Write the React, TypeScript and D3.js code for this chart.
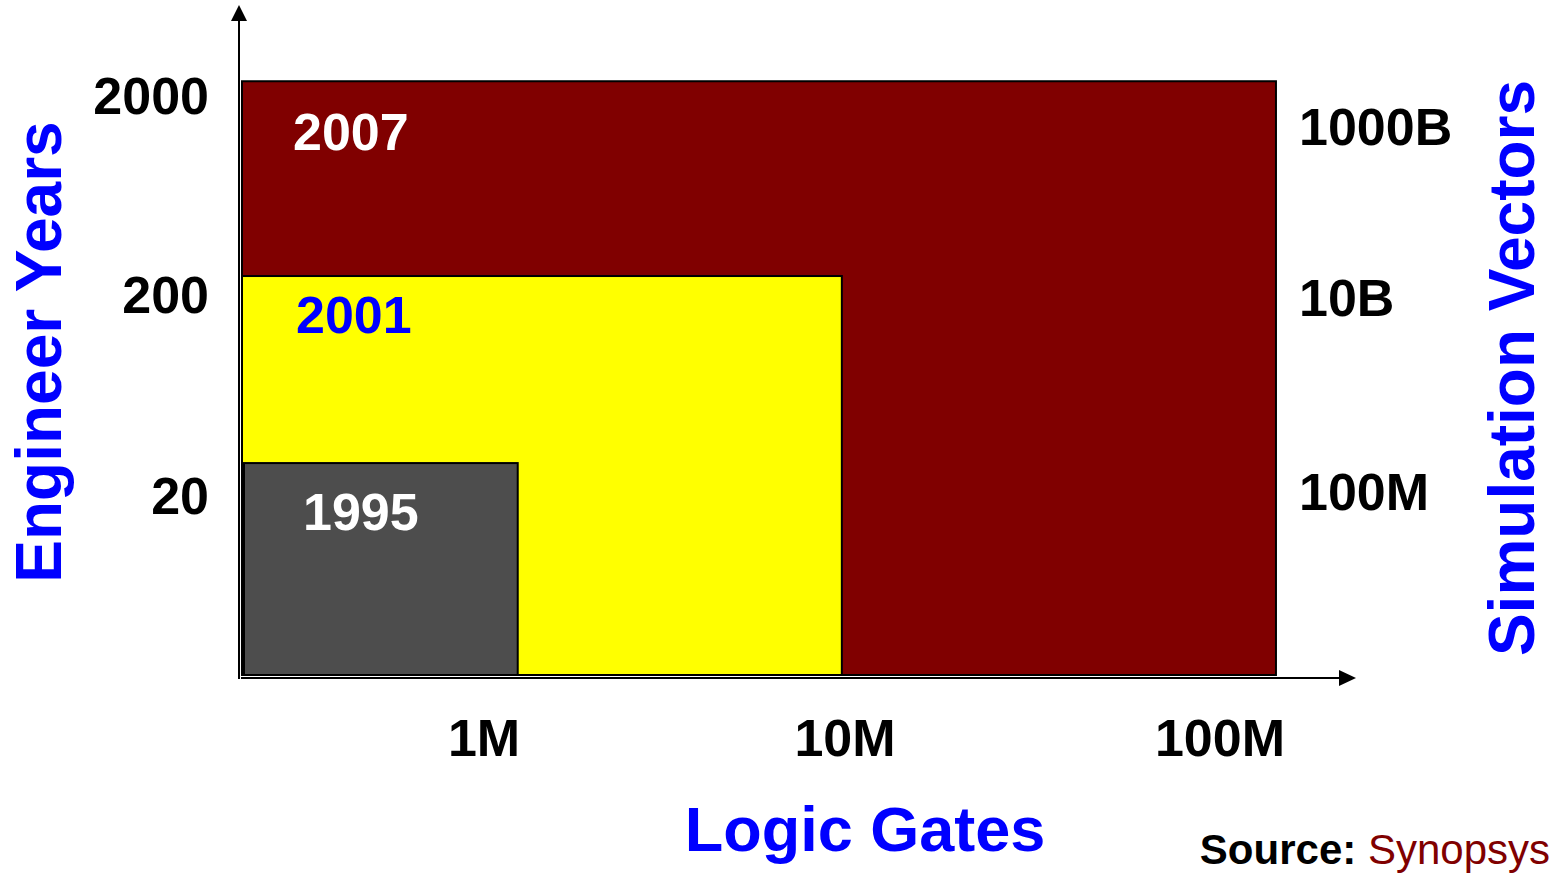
import React, { useEffect, useRef } from 'react'
import * as d3 from 'd3'

// design generations, drawn largest first so smaller boxes sit on top
const years = ['2007', '2001', '1995']
const gates = [141e6, 9.8e6, 1.24e6]
const engineerYears = [2400, 252, 29.5]
const fills = ['#800000', '#ffff00', '#4d4d4d']
const labelColors = ['#ffffff', '#0000ff', '#ffffff']

const gateTicks = [1e6, 1e7, 1e8]
const gateTickLabels = ['1M', '10M', '100M']
const engTicks = [20, 200, 2000]
const engTickLabels = ['20', '200', '2000']
const vecTicks = [1e8, 1e10, 1e12]
const vecTickLabels = ['100M', '10B', '1000B']

const FONT = 'Liberation Sans, Arial, Helvetica, sans-serif'

const App: React.FC = () => {
  const svgRef = useRef<SVGSVGElement>(null)

  useEffect(() => {
    if (!svgRef.current) return
    const svg = d3.select(svgRef.current)
    svg.selectAll('*').remove()

    const width = 1552
    const height = 873
    svg.attr('width', width).attr('height', height)

    // log scales, pinned at the tick label centres
    const x = d3.scaleLog().domain(gateTicks).range([484, 845, 1220])
    const yEng = d3.scaleLog().domain(engTicks).range([497, 296, 97])
    const yVec = d3.scaleLog().domain(vecTicks).range([493, 299, 128])

    const x0 = 242
    const y0 = 675

    // rectangles
    years.forEach((yr, i) => {
      const top = yEng(engineerYears[i])
      const right = x(gates[i])
      svg.append('rect')
        .attr('x', x0 + (i === 2 ? 2 : 0))
        .attr('y', top)
        .attr('width', right - x0 - (i === 2 ? 2 : 0))
        .attr('height', y0 - top)
        .attr('fill', fills[i])
        .attr('stroke', '#000')
        .attr('stroke-width', 2)

      svg.append('text')
        .attr('x', x0 + [51, 54, 61][i])
        .attr('y', top + [69, 57, 67][i])
        .style('font-family', FONT)
        .style('font-weight', 'bold')
        .style('font-size', '52px')
        .style('fill', labelColors[i])
        .text(yr)
    })

    // axes with arrowheads
    svg.append('line')
      .attr('x1', 239).attr('y1', 679)
      .attr('x2', 239).attr('y2', 18)
      .attr('stroke', '#000').attr('stroke-width', 2)
    svg.append('path')
      .attr('d', 'M239,5 L231,21 L247,21 Z')
      .attr('fill', '#000')

    svg.append('line')
      .attr('x1', 241).attr('y1', 678)
      .attr('x2', 1342).attr('y2', 678)
      .attr('stroke', '#000').attr('stroke-width', 2)
    svg.append('path')
      .attr('d', 'M1356,678 L1339,670 L1339,686 Z')
      .attr('fill', '#000')

    const tickStyle = (sel: d3.Selection<SVGTextElement, unknown, null, undefined>) =>
      sel.style('font-family', FONT)
        .style('font-weight', 'bold')
        .style('font-size', '52px')
        .style('fill', '#000')

    // x tick labels
    gateTicks.forEach((t, i) => {
      svg.append('text')
        .attr('x', x(t))
        .attr('y', 756)
        .attr('text-anchor', 'middle')
        .call(tickStyle)
        .text(gateTickLabels[i])
    })

    // left tick labels
    engTicks.forEach((t, i) => {
      svg.append('text')
        .attr('x', 209)
        .attr('y', yEng(t))
        .attr('dy', '0.33em')
        .attr('text-anchor', 'end')
        .call(tickStyle)
        .text(engTickLabels[i])
    })

    // right tick labels
    vecTicks.forEach((t, i) => {
      svg.append('text')
        .attr('x', 1299)
        .attr('y', yVec(t))
        .attr('dy', '0.33em')
        .attr('text-anchor', 'start')
        .call(tickStyle)
        .text(vecTickLabels[i])
    })

    // axis titles
    svg.append('text')
      .attr('x', 865)
      .attr('y', 851)
      .attr('text-anchor', 'middle')
      .style('font-family', FONT)
      .style('font-weight', 'bold')
      .style('font-size', '63px')
      .style('fill', '#0000ff')
      .text('Logic Gates')

    svg.append('text')
      .attr('transform', 'translate(61, 352) rotate(-90)')
      .attr('text-anchor', 'middle')
      .style('font-family', FONT)
      .style('font-weight', 'bold')
      .style('font-size', '64px')
      .style('fill', '#0000ff')
      .text('Engineer Years')

    svg.append('text')
      .attr('transform', 'translate(1534, 368) rotate(-90)')
      .attr('text-anchor', 'middle')
      .style('font-family', FONT)
      .style('font-weight', 'bold')
      .style('font-size', '64px')
      .style('fill', '#0000ff')
      .text('Simulation Vectors')

    // source note
    const src = svg.append('text')
      .attr('x', 1550)
      .attr('y', 864)
      .attr('text-anchor', 'end')
      .style('font-family', FONT)
      .style('font-size', '42px')
    src.append('tspan').style('font-weight', 'bold').style('fill', '#000').text('Source: ')
    src.append('tspan').style('fill', '#800000').text('Synopsys')
  }, [])

  return (
    <svg ref={svgRef} style={{ position: 'absolute', left: 0, top: 0, background: '#fff' }}></svg>
  )
}

export default App
